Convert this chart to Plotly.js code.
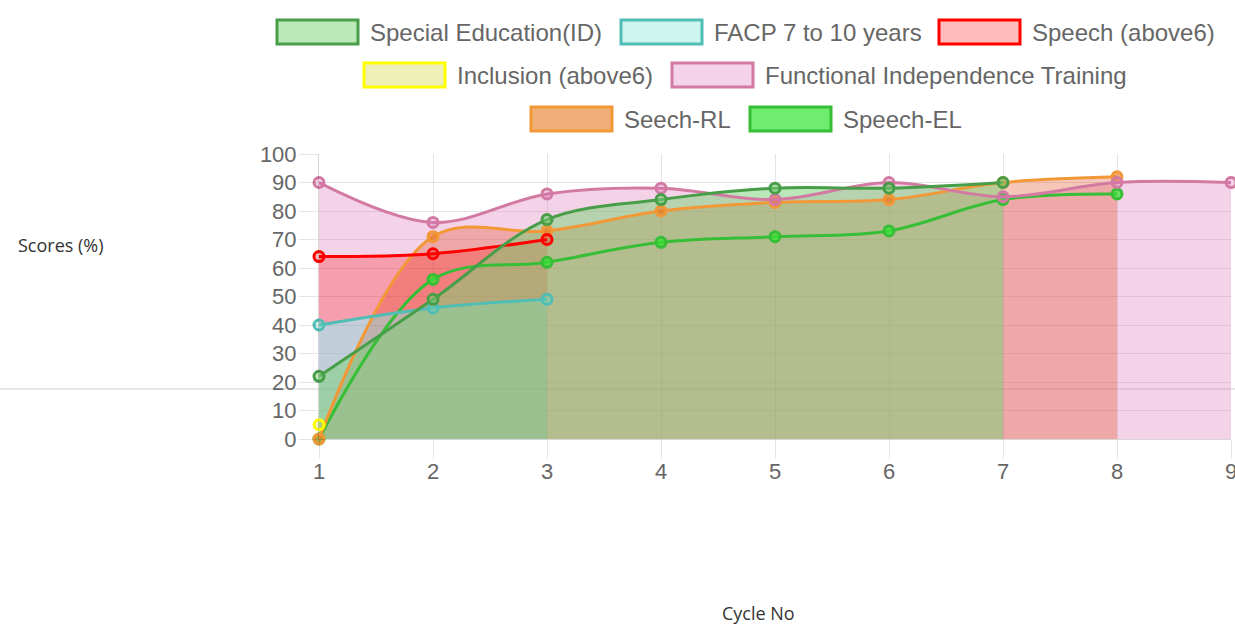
<!DOCTYPE html>
<html><head><meta charset="utf-8">
<script src="https://cdn.plot.ly/plotly-3.0.1.min.js"></script>
<style>html,body{margin:0;padding:0;background:#fff;overflow:hidden}#chart{width:1235px;height:624px}</style>
</head><body><div id="chart"></div>
<script>
// ---- data ----
const cycles = [1, 2, 3, 4, 5, 6, 7, 8, 9];
const seriesNames = ["Special Education(ID)", "FACP 7 to 10 years", "Speech (above6)",
  "Inclusion (above6)", "Functional Independence Training", "Seech-RL", "Speech-EL"];
const specialEducation = [22, 49, 77, 84, 88, 88, 90];
const facp = [40, 46, 49];
const speechAbove6 = [64, 65, 70];
const inclusionAbove6 = [5];
const functionalIndependence = [90, 76, 86, 88, 84, 90, 85, 90, 90];
const seechRL = [0, 71, 73, 80, 83, 84, 90, 92];
const speechEL = [0, 56, 62, 69, 71, 73, 84, 86];
const yTicks = [0, 10, 20, 30, 40, 50, 60, 70, 80, 90, 100];

// ---- styles ----
const values = [specialEducation, facp, speechAbove6, inclusionAbove6, functionalIndependence, seechRL, speechEL];
const borderColors = ["rgb(72,158,72)", "rgb(80,190,180)", "rgb(255,0,0)", "rgb(255,255,0)",
  "rgb(210,122,162)", "rgb(242,152,55)", "rgb(55,190,55)"];
const legendFill = ["rgba(119,210,116,0.5)", "rgba(90,220,200,0.3)", "rgba(255,0,0,0.27)",
  "rgba(205,205,40,0.33)", "rgba(220,110,180,0.3)", "rgba(232,120,30,0.6)", "rgba(50,230,50,0.7)"];
const areaFill = {0: "rgba(119,210,116,0.5)", 1: "rgba(80,200,190,0.3)", 2: "rgba(255,0,0,0.25)",
  4: "rgba(220,110,180,0.3)", 5: "rgba(224,68,19,0.3)"};
const SMOOTH = 1.0;

const traces = [];
function xs(i) { return cycles.slice(0, values[i].length); }
// fill layers first (as the original draws every area beneath the lines)
[[4, 'tozeroy'], [5, 'tozeroy'], [1, 'tozeroy'], [2, 'tonexty'], [0, 'tozeroy']].forEach(([i, f]) => {
  traces.push({x: xs(i), y: values[i], type: 'scatter', mode: 'lines', fill: f,
    fillcolor: areaFill[i], line: {width: 0, shape: 'spline', smoothing: SMOOTH, color: 'rgba(0,0,0,0)'},
    hoverinfo: 'skip', showlegend: false});
});
// lines + points
[6, 5, 4, 3, 2, 1, 0].forEach(i => {
  traces.push({x: xs(i), y: values[i], type: 'scatter', mode: 'lines+markers', name: seriesNames[i],
    line: {width: 3, color: borderColors[i], shape: 'spline', smoothing: SMOOTH},
    marker: {size: 10, color: legendFill[i], line: {width: 3, color: borderColors[i]}},
    cliponaxis: false, showlegend: false, hoverinfo: 'x+y+name'});
});

// ---- layout helpers (pixel -> paper) ----
const L = 319, R = 4, T = 154, B = 185, W = 1235 - L - R, H = 624 - T - B;
const px = v => (v - L) / W;
const py = v => (624 - B - v) / H;

const legendPos = [[277, 32], [621, 32], [939, 32], [364, 75], [672, 75], [531, 119], [750, 119]];
const shapes = [{type: 'line', xref: 'paper', yref: 'paper', x0: px(0), x1: px(1235), y0: py(389), y1: py(389),
  line: {color: 'rgba(0,0,0,0.13)', width: 1.5}, layer: 'below'}];
const annotations = [];
legendPos.forEach(([bx, cy], i) => {
  shapes.push({type: 'rect', xref: 'paper', yref: 'paper', x0: px(bx), x1: px(bx + 81), y0: py(cy + 12), y1: py(cy - 12),
    fillcolor: legendFill[i], line: {color: borderColors[i], width: 3}});
  annotations.push({xref: 'paper', yref: 'paper', x: px(bx + 91), y: py(cy), xanchor: 'left', yanchor: 'middle',
    showarrow: false, text: seriesNames[i], font: {family: 'Liberation Sans, Arial, sans-serif', size: 24, color: '#666'}});
});
annotations.push({xref: 'paper', yref: 'paper', x: px(16), y: py(245), xanchor: 'left', yanchor: 'middle', showarrow: false,
  text: 'Scores (%)', font: {family: 'Open Sans, Noto Sans, sans-serif', size: 18, color: '#333'}});
annotations.push({xref: 'paper', yref: 'paper', x: px(758), y: py(613), xanchor: 'center', yanchor: 'middle', showarrow: false,
  text: 'Cycle No', font: {family: 'Open Sans, Noto Sans, sans-serif', size: 18, color: '#333'}});

const axisCommon = {showgrid: true, gridcolor: 'rgba(0,0,0,0.1)', gridwidth: 1, zeroline: false,
  showline: true, linecolor: 'rgba(0,0,0,0.16)', linewidth: 1, ticks: 'outside', ticklen: 19,
  tickcolor: 'rgba(0,0,0,0.1)', tickwidth: 1, fixedrange: true, ticklabeloverflow: 'allow',
  tickfont: {family: 'Liberation Sans, Arial, sans-serif', size: 22, color: '#666'}};

const layout = {
  width: 1235, height: 624, margin: {l: L, r: R, t: T, b: B},
  paper_bgcolor: '#fff', plot_bgcolor: 'rgba(0,0,0,0)', showlegend: false,
  xaxis: Object.assign({}, axisCommon, {range: [1, 9], tickvals: cycles, ticktext: cycles.map(String), ticklabelstandoff: -6}),
  yaxis: Object.assign({}, axisCommon, {range: [0, 100], tickvals: yTicks, ticktext: yTicks.map(String), ticklabelstandoff: -2}),
  shapes: shapes, annotations: annotations
};
Plotly.newPlot('chart', traces, layout, {displayModeBar: false});
</script></body></html>
